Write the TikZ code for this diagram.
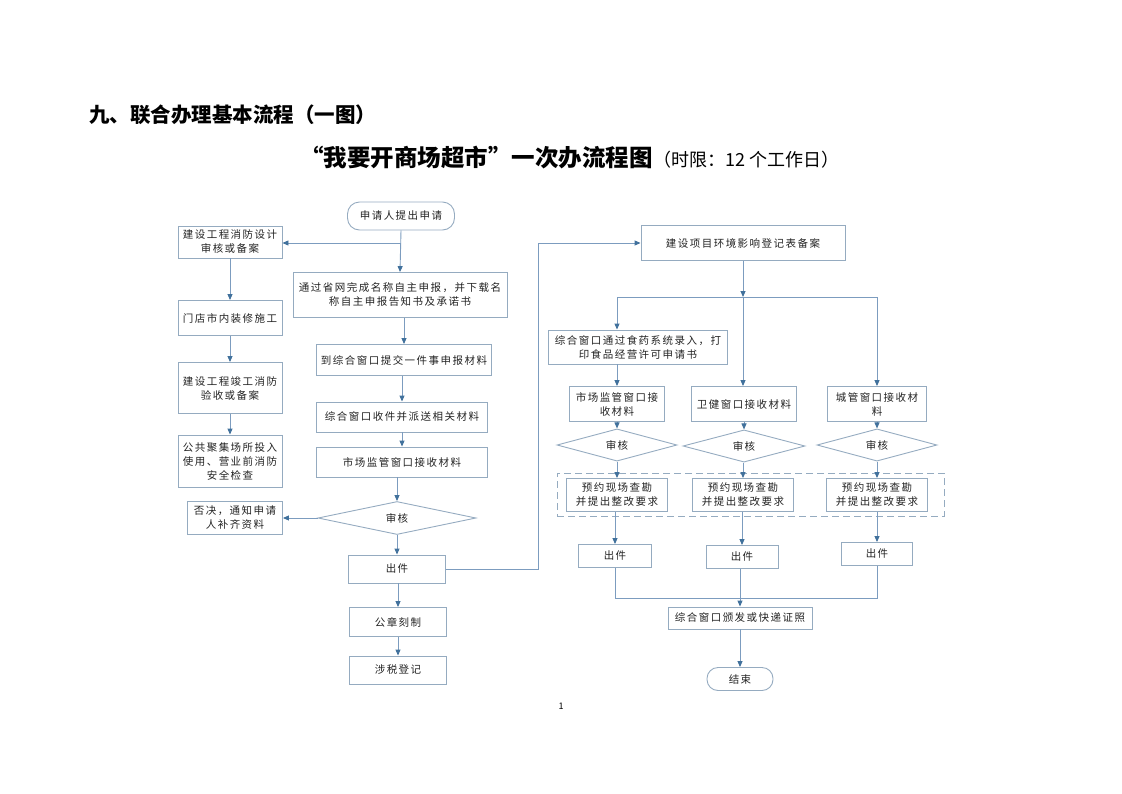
\documentclass[tikz,border=0pt]{standalone}
\usepackage{fontspec}
\setmainfont{Noto Sans CJK SC}
\newfontfamily\boxfont[LetterSpace=14]{Noto Sans CJK SC}
\usetikzlibrary{arrows.meta,shapes.geometric}
\definecolor{boxc}{HTML}{95ABC0}
\definecolor{linec}{HTML}{7C9CBF}
\definecolor{tipc}{HTML}{41719C}
\definecolor{txtc}{HTML}{222222}
\begin{document}
\begin{tikzpicture}[x=1pt,y=-1pt,
  box/.style={draw=boxc,line width=0.9pt,align=center,inner sep=1pt,text=txtc,
    font=\boxfont\fontsize{10.5}{14}\selectfont},
  dia/.style={diamond,draw=boxc,line width=0.9pt,inner sep=0pt,text=txtc,
    font=\boxfont\fontsize{10.5}{14}\selectfont},
  term/.style={box,rounded corners=12pt},
  conn/.style={draw=linec,line width=0.9pt,-{Triangle[length=6pt,width=5pt,color=tipc]}},
  plain/.style={draw=linec,line width=0.9pt}]
\useasboundingbox (0,0) rectangle (1122,793);
% titles
\node[anchor=west,inner sep=0,font=\fontsize{20.5}{24}\selectfont\bfseries] (t1) at (89,115) {九、联合办理基本流程（一图）};
\node[anchor=base west,inner sep=0,font=\fontsize{23.5}{26}\selectfont\bfseries] (t2) at (300,166) {“我要开商场超市”一次办流程图};
\node[anchor=base west,inner sep=0,font=\fontsize{18}{20}\selectfont] (t3) at (t2.base east) {（时限：12 个工作日）};
\node[font=\fontsize{9}{10}\selectfont] (pg) at (561,706) {1};
% left column
\node[term,minimum width=107,minimum height=28] (st) at (401,216) {申请人提出申请};
\node[box,minimum width=104,minimum height=32] (a1) at (230,242) {建设工程消防设计\\审核或备案};
\node[box,minimum width=104,minimum height=35] (a2) at (230,318) {门店市内装修施工};
\node[box,minimum width=104,minimum height=51] (a3) at (230,388) {建设工程竣工消防\\验收或备案};
\node[box,minimum width=104,minimum height=52] (a4) at (230,461) {公共聚集场所投入\\使用、营业前消防\\安全检查};
\node[box,minimum width=214,minimum height=45] (b) at (400,295) {通过省网完成名称自主申报，并下载名\\称自主申报告知书及承诺书};
\node[box,minimum width=175,minimum height=31] (c) at (404,360) {到综合窗口提交一件事申报材料};
\node[box,minimum width=171,minimum height=30] (d) at (402,417) {综合窗口收件并派送相关材料};
\node[box,minimum width=171,minimum height=30] (e) at (402,462) {市场监管窗口接收材料};
\node[dia,minimum width=158,minimum height=33] (f) at (397,518) {审核};
\node[box,minimum width=95,minimum height=33] (g) at (235,518) {否决，通知申请\\人补齐资料};
\node[box,minimum width=97,minimum height=28] (h) at (397,569) {出件};
\node[box,minimum width=97,minimum height=29] (i) at (398,622) {公章刻制};
\node[box,minimum width=97,minimum height=28] (j) at (398,670) {涉税登记};
% right column
\node[box,minimum width=204,minimum height=35] (k) at (743,243) {建设项目环境影响登记表备案};
\node[box,minimum width=179,minimum height=34] (l) at (638,347) {综合窗口通过食药系统录入，打\\印食品经营许可申请书};
\node[box,minimum width=95,minimum height=35] (m) at (617,404) {市场监管窗口接\\收材料};
\node[box,minimum width=105,minimum height=35] (n) at (744,404) {卫健窗口接收材料};
\node[box,minimum width=99,minimum height=35] (o) at (877,404) {城管窗口接收材\\料};
\node[dia,minimum width=120,minimum height=25] (md) at (617,445) {审核};
\node[dia,minimum width=122,minimum height=26] (nd) at (744,446) {审核};
\node[dia,minimum width=120,minimum height=25] (od) at (877,445) {审核};
\node[draw=boxc,line width=0.9pt,dash pattern=on 7pt off 4pt,minimum width=387,minimum height=43,inner sep=0] (dbox) at (750.5,494.5) {};
\node[box,minimum width=101,minimum height=33] (p1) at (617,495) {预约现场查勘\\并提出整改要求};
\node[box,minimum width=101,minimum height=33] (p2) at (743,495) {预约现场查勘\\并提出整改要求};
\node[box,minimum width=101,minimum height=33] (p3) at (877,495) {预约现场查勘\\并提出整改要求};
\node[box,minimum width=73,minimum height=23] (q1) at (615,556) {出件};
\node[box,minimum width=72,minimum height=23] (q2) at (742,557) {出件};
\node[box,minimum width=71,minimum height=23] (q3) at (877,554) {出件};
\node[box,minimum width=144,minimum height=22] (r) at (740,618) {综合窗口颁发或快递证照};
\node[term,minimum width=66,minimum height=23,rounded corners=11pt] (s) at (740,679) {结束};
% coordinates
\coordinate (br1) at (401,243);
\coordinate (hk) at (538,569);
\coordinate (kb) at (743,297);
\coordinate (kl) at (617,297);
\coordinate (kr) at (877,297);
\coordinate (ml) at (615,598);
\coordinate (mr) at (877,598);
% left connectors
\draw[conn] (st.south) -- (b.north);
\draw[conn] (br1) -- (br1 -| a1.east);
\draw[conn] (a1.south) -- (a2.north);
\draw[conn] (a2.south) -- (a3.north);
\draw[conn] (a3.south) -- (a4.north);
\draw[conn] (b.south -| c.north) -- (c.north);
\draw[conn] (c.south -| d.north) -- (d.north);
\draw[conn] (d.south) -- (e.north);
\draw[conn] (e.south -| f.north) -- (f.north);
\draw[conn] (f.west) -- (g.east);
\draw[conn] (f.south) -- (h.north);
\draw[conn] (h.south -| i.north) -- (i.north);
\draw[conn] (i.south -| j.north) -- (j.north);
\draw[conn] (h.east) -- (hk) |- (k.west);
% right connectors
\draw[conn] (k.south) -- (kb);
\draw[plain] (kl) -- (kr);
\draw[conn] (kb) -- (kb |- n.north);
\draw[conn] (kl) -- (kl |- l.north);
\draw[conn] (kr) -- (o.north);
\draw[conn] (m.north |- l.south) -- (m.north);
\draw[conn] (m.south) -- (md.north);
\draw[conn] (n.south) -- (nd.north);
\draw[conn] (o.south) -- (od.north);
\draw[conn] (md.south) -- (p1.north);
\draw[conn] (nd.south -| p2.north) -- (p2.north);
\draw[conn] (od.south) -- (p3.north);
\draw[conn] (p1.south -| q1.north) -- (q1.north);
\draw[conn] (p2.south -| q2.north) -- (q2.north);
\draw[conn] (p3.south) -- (q3.north);
\draw[plain] (q1.south) -- (ml) -- (mr) -- (q3.south);
\draw[conn] (q2.south -| r.north) -- (r.north);
\draw[conn] (r.south) -- (s.north);
\end{tikzpicture}
\end{document}
